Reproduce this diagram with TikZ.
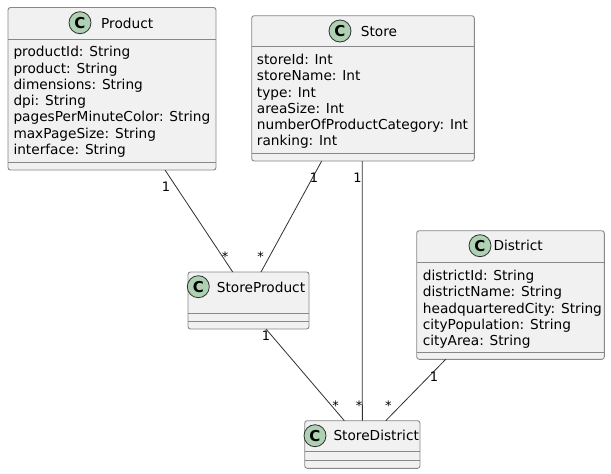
\documentclass[tikz,border=0pt]{standalone}
\usepackage{fontspec}
\setmainfont{DejaVu Sans}
\definecolor{boxfill}{HTML}{F1F1F1}
\definecolor{boxline}{HTML}{888888}
\definecolor{connline}{HTML}{303030}
\definecolor{spot}{HTML}{ADD1B2}
\begin{document}
\begin{tikzpicture}[x=1pt,y=-1pt,
  cls/.style={draw=boxline,fill=boxfill,line width=0.9pt,rounded corners=2.5pt,inner sep=0pt,outer sep=0pt},
  circ/.style={circle,draw=connline,fill=spot,line width=0.8pt,minimum size=22pt,inner sep=0pt,font=\fontsize{15}{15}\selectfont\bfseries},
  sep/.style={draw=boxline,line width=0.9pt},
  title/.style={anchor=base west,inner sep=0pt,font=\fontsize{13.7}{14}\selectfont},
  attr/.style={anchor=base west,inner sep=0pt,font=\fontsize{13.7}{14}\selectfont},
  conn/.style={draw=connline,line width=0.8pt},
  mult/.style={anchor=base,inner sep=0pt,font=\fontsize{13}{13}\selectfont},
]
\useasboundingbox (0,0) rectangle (611,474);
% ---------- Product
\node[cls,minimum width=208pt,minimum height=162.5pt] (prod) at (112,88.75) {};
\draw[sep] (prod.west |- 0,39) -- (prod.east |- 0,39);
\draw[sep] (prod.west |- 0,162) -- (prod.east |- 0,162);
\node[circ] (prodC) at (80,22.7) {C};
\node[title] (prodT) at (101,28) {Product};
\node[attr] (p1) at (13.3,56.7) {productId: String};
\node[attr] (p2) at (13.3,73.0) {product: String};
\node[attr] (p3) at (13.3,89.3) {dimensions: String};
\node[attr] (p4) at (13.3,105.6) {dpi: String};
\node[attr] (p5) at (13.3,121.9) {pagesPerMinuteColor: String};
\node[attr] (p6) at (13.3,138.2) {maxPageSize: String};
\node[attr] (p7) at (13.3,154.5) {interface: String};
% ---------- Store
\node[cls,minimum width=222.6pt,minimum height=145.3pt] (store) at (363,88.35) {};
\draw[sep] (store.west |- 0,46.7) -- (store.east |- 0,46.7);
\draw[sep] (store.west |- 0,153.3) -- (store.east |- 0,153.3);
\node[circ] (storeC) at (340,31) {C};
\node[title] (storeT) at (360.7,36) {Store};
\node[attr] (s1) at (256.7,64.4) {storeId: Int};
\node[attr] (s2) at (256.7,80.7) {storeName: Int};
\node[attr] (s3) at (256.7,97.0) {type: Int};
\node[attr] (s4) at (256.7,113.3) {areaSize: Int};
\node[attr] (s5) at (256.7,129.6) {numberOfProductCategory: Int};
\node[attr] (s6) at (256.7,145.9) {ranking: Int};
% ---------- District
\node[cls,minimum width=187.6pt,minimum height=128.6pt] (dist) at (510.5,295) {};
\draw[sep] (dist.west |- 0,262.7) -- (dist.east |- 0,262.7);
\draw[sep] (dist.west |- 0,352.7) -- (dist.east |- 0,352.7);
\node[circ] (distC) at (480,245.7) {C};
\node[title] (distT) at (493.3,250.7) {District};
\node[attr] (d1) at (422.7,280.4) {districtId: String};
\node[attr] (d2) at (422.7,296.7) {districtName: String};
\node[attr] (d3) at (422.7,313.0) {headquarteredCity: String};
\node[attr] (d4) at (422.7,329.3) {cityPopulation: String};
\node[attr] (d5) at (422.7,345.6) {cityArea: String};
% ---------- StoreProduct
\node[cls,minimum width=121pt,minimum height=57pt] (sp) at (248.5,300.5) {};
\draw[sep] (sp.west |- 0,313) -- (sp.east |- 0,313);
\draw[sep] (sp.west |- 0,321) -- (sp.east |- 0,321);
\node[circ] (spC) at (198.3,286.7) {C};
\node[title] (spT) at (216.7,292) {StoreProduct};
% ---------- StoreDistrict
\node[cls,minimum width=115.3pt,minimum height=47.6pt] (sd) at (362.35,444.5) {};
\draw[sep] (sd.west |- 0,451.7) -- (sd.east |- 0,451.7);
\draw[sep] (sd.west |- 0,460.3) -- (sd.east |- 0,460.3);
\node[circ] (sdC) at (315,435.7) {C};
\node[title] (sdT) at (333.3,440.7) {StoreDistrict};
% ---------- connectors
\draw[conn] ([xshift=53pt]prod.south) -- ([xshift=-15.8pt]sp.north);
\draw[conn] ([xshift=-41.3pt]store.south) -- ([xshift=12.5pt]sp.north);
\draw[conn] ([xshift=-0.7pt]store.south) -- ([xshift=0pt]sd.north);
\draw[conn] ([xshift=17.5pt]sp.south) -- ([xshift=-18pt]sd.north);
\draw[conn] ([xshift=-64.8pt]dist.south) -- ([xshift=23.4pt]sd.north);
% ---------- multiplicities
\node[mult] (m1) at (166,191) {1};
\node[mult] (m2) at (225,261.5) {*};
\node[mult] (m3) at (314,182) {1};
\node[mult] (m4) at (260.7,261.5) {*};
\node[mult] (m5) at (357.5,182) {1};
\node[mult] (m6) at (359,410.2) {*};
\node[mult] (m7) at (266,340) {1};
\node[mult] (m8) at (335.7,410.2) {*};
\node[mult] (m9) at (434,381) {1};
\node[mult] (m10) at (388.3,410.2) {*};
\end{tikzpicture}
\end{document}
